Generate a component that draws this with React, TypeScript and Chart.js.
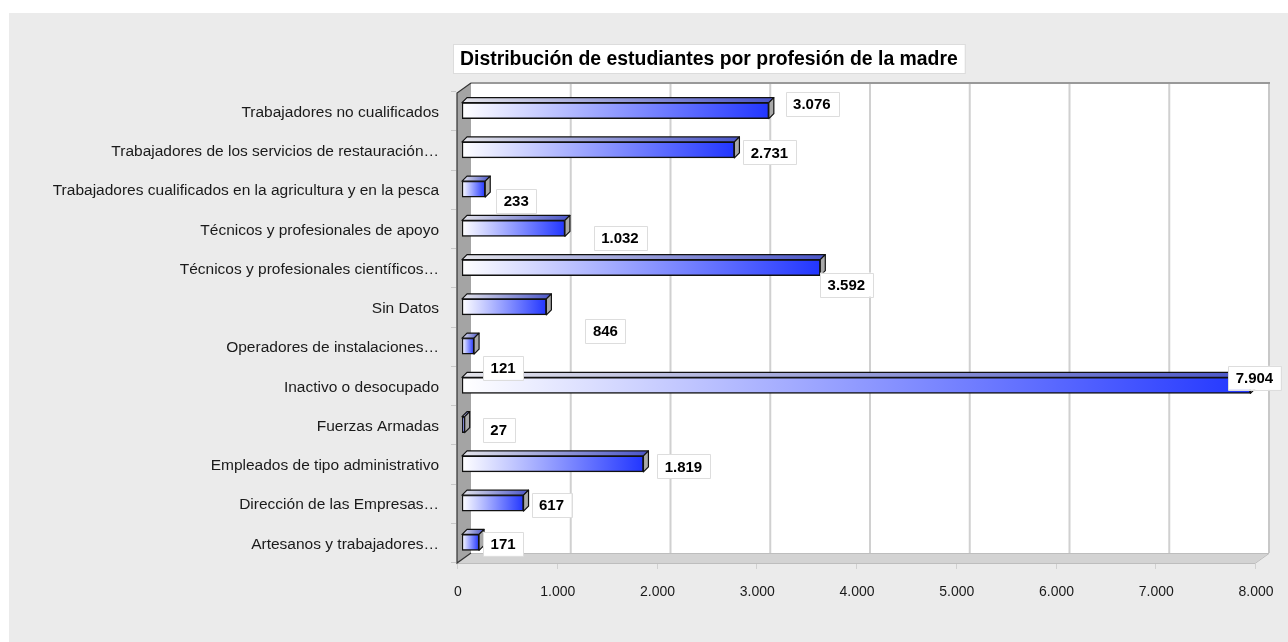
import { useEffect, useRef } from "react";
import { Chart, registerables } from "chart.js";

Chart.register(...registerables);

const titleText = "Distribución de estudiantes por profesión de la madre";

const categories = [
  "Trabajadores no cualificados",
  "Trabajadores de los servicios de restauración…",
  "Trabajadores cualificados en la agricultura y en la pesca",
  "Técnicos y profesionales de apoyo",
  "Técnicos y profesionales científicos…",
  "Sin Datos",
  "Operadores de instalaciones…",
  "Inactivo o desocupado",
  "Fuerzas Armadas",
  "Empleados de tipo administrativo",
  "Dirección de las Empresas…",
  "Artesanos y trabajadores…",
];

const values = [3076, 2731, 233, 1032, 3592, 846, 121, 7904, 27, 1819, 617, 171];

const xMin = 0;
const xMax = 8000;
const xStep = 1000;

// value-label placement relative to the bar end (px), as in the original layout
const labelDx = [43, 35, 31, 55, 26, 59, 29, 4, 34, 40, 28, 24];
const labelDy = [-7, 2.5, 11.5, 9.5, 17, 24, 21.5, -7.5, 5.5, 2.5, 2, 1.5];

const fmt = (v: number) => String(Math.round(v)).replace(/\B(?=(\d{3})+(?!\d))/g, ".");

const FONT = "'Liberation Sans', Arial, Helvetica, sans-serif";

export default function App() {
  const ref = useRef<HTMLCanvasElement | null>(null);

  useEffect(() => {
    if (!ref.current) return;

    const FRONT = -5;
    const BACK = 9;
    const DEPTH_X = 5;
    const DEPTH_Y = 5;

    const scenePlugin = {
      id: "scene",
      beforeDraw(chart: any) {
        const ctx = chart.ctx;
        ctx.save();
        ctx.fillStyle = "#ffffff";
        ctx.fillRect(0, 0, chart.width, chart.height);
        ctx.fillStyle = "#ebebeb";
        ctx.fillRect(9, 13, chart.width - 9, chart.height - 13);
        ctx.restore();
      },
      beforeDatasetsDraw(chart: any) {
        const ctx = chart.ctx;
        const xs = chart.scales.x;
        const ca = chart.chartArea;
        const ty = ca.top - 8;
        const by = ca.bottom - 9;
        const fy = ca.bottom + 1;
        const x0b = xs.getPixelForValue(xMin) + BACK;
        const x1b = xs.getPixelForValue(xMax) + BACK;
        const x0f = xs.getPixelForValue(xMin) + FRONT;
        const x1f = xs.getPixelForValue(xMax) + FRONT;
        ctx.save();
        // back wall
        ctx.fillStyle = "#ffffff";
        ctx.fillRect(x0b, ty, x1b - x0b, by - ty);
        // grid lines
        ctx.strokeStyle = "#d0d0d0";
        ctx.lineWidth = 2;
        for (let v = xMin + xStep; v < xMax; v += xStep) {
          const x = xs.getPixelForValue(v) + BACK;
          ctx.beginPath();
          ctx.moveTo(x, ty);
          ctx.lineTo(x, by);
          ctx.stroke();
        }
        // right wall edge
        ctx.strokeStyle = "#c8c8c8";
        ctx.beginPath();
        ctx.moveTo(x1b, ty);
        ctx.lineTo(x1b, by);
        ctx.stroke();
        // top edge
        ctx.strokeStyle = "#999999";
        ctx.beginPath();
        ctx.moveTo(x0b, ty);
        ctx.lineTo(x1b + 1, ty);
        ctx.stroke();
        // floor
        ctx.fillStyle = "#d3d3d3";
        ctx.beginPath();
        ctx.moveTo(x0f, fy);
        ctx.lineTo(x1f, fy);
        ctx.lineTo(x1b, by);
        ctx.lineTo(x0b, by);
        ctx.closePath();
        ctx.fill();
        ctx.strokeStyle = "#bdbdbd";
        ctx.lineWidth = 1;
        ctx.beginPath();
        ctx.moveTo(x0b, by + 0.5);
        ctx.lineTo(x1b, by + 0.5);
        ctx.moveTo(x0f, fy + 0.5);
        ctx.lineTo(x1f, fy + 0.5);
        ctx.lineTo(x1b, by + 0.5);
        ctx.stroke();
        // floor ticks
        ctx.strokeStyle = "#d0d0d0";
        for (let v = xMin; v <= xMax; v += xStep) {
          const x = Math.round(xs.getPixelForValue(v) + FRONT) + 0.5;
          ctx.beginPath();
          ctx.moveTo(x, fy + 1);
          ctx.lineTo(x, fy + 6);
          ctx.stroke();
        }
        // left wall
        ctx.fillStyle = "#a4a4a4";
        ctx.beginPath();
        ctx.moveTo(x0f, ty + 10);
        ctx.lineTo(x0b, ty);
        ctx.lineTo(x0b, by);
        ctx.lineTo(x0f, fy);
        ctx.closePath();
        ctx.fill();
        ctx.strokeStyle = "#333333";
        ctx.lineWidth = 1.2;
        ctx.beginPath();
        ctx.moveTo(x0b, ty);
        ctx.lineTo(x0f, ty + 10);
        ctx.lineTo(x0f, fy);
        ctx.lineTo(x0b, by);
        ctx.stroke();
        // category tick marks left of wall
        const ys = chart.scales.y;
        ctx.strokeStyle = "#c8c8c8";
        ctx.lineWidth = 1;
        const n = categories.length;
        const band = (ca.bottom - ca.top) / n;
        for (let i = 0; i <= n; i++) {
          const y = Math.round(ys.top + i * band) + 0.5;
          ctx.beginPath();
          ctx.moveTo(x0f - 6, y);
          ctx.lineTo(x0f - 1, y);
          ctx.stroke();
        }
        ctx.restore();
      },
      afterDatasetsDraw(chart: any) {
        const ctx = chart.ctx;
        const meta = chart.getDatasetMeta(0);
        ctx.save();
        // 3D faces of bars
        meta.data.forEach((el: any) => {
          const p = el.getProps(["x", "y", "base", "height"], true);
          const left = Math.min(p.base, p.x);
          const right = Math.max(p.base, p.x);
          const top = p.y - p.height / 2;
          const bottom = p.y + p.height / 2;
          const g = ctx.createLinearGradient(left, 0, right + DEPTH_X, 0);
          g.addColorStop(0, "#e4e4ea");
          g.addColorStop(1, "#4a55c8");
          ctx.fillStyle = g;
          ctx.strokeStyle = "#111111";
          ctx.lineWidth = 1.2;
          ctx.lineJoin = "round";
          ctx.beginPath();
          ctx.moveTo(left, top);
          ctx.lineTo(left + DEPTH_X, top - DEPTH_Y);
          ctx.lineTo(right + DEPTH_X, top - DEPTH_Y);
          ctx.lineTo(right, top);
          ctx.closePath();
          ctx.fill();
          ctx.stroke();
          ctx.fillStyle = "#a9a9a9";
          ctx.beginPath();
          ctx.moveTo(right, top);
          ctx.lineTo(right + DEPTH_X, top - DEPTH_Y);
          ctx.lineTo(right + DEPTH_X, bottom - DEPTH_Y);
          ctx.lineTo(right, bottom);
          ctx.closePath();
          ctx.fill();
          ctx.stroke();
        });
        // value labels
        ctx.font = `bold 15px ${FONT}`;
        ctx.textAlign = "center";
        ctx.textBaseline = "middle";
        meta.data.forEach((el: any, i: number) => {
          const p = el.getProps(["x", "y"], true);
          const text = fmt(values[i]);
          const w = ctx.measureText(text).width + 15;
          const h = 24;
          const cx = p.x + labelDx[i];
          const cy = p.y + labelDy[i];
          ctx.fillStyle = "#ffffff";
          ctx.fillRect(cx - w / 2, cy - h / 2, w, h);
          ctx.strokeStyle = "#dddddd";
          ctx.lineWidth = 1;
          ctx.strokeRect(Math.round(cx - w / 2) + 0.5, Math.round(cy - h / 2) + 0.5, Math.round(w), h);
          ctx.fillStyle = "#000000";
          ctx.fillText(text, cx, cy + 1);
        });
        ctx.restore();
      },
      afterDraw(chart: any) {
        const ctx = chart.ctx;
        const ca = chart.chartArea;
        ctx.save();
        ctx.font = `bold 19.4px ${FONT}`;
        const tw = ctx.measureText(titleText).width;
        const bx = ca.left - 9;
        const by = 44;
        const bw = tw + 14;
        const bh = 29;
        ctx.fillStyle = "#ffffff";
        ctx.fillRect(bx, by, bw, bh);
        ctx.strokeStyle = "#dcdcdc";
        ctx.lineWidth = 1;
        ctx.strokeRect(bx + 0.5, by + 0.5, bw, bh);
        ctx.fillStyle = "#000000";
        ctx.textAlign = "left";
        ctx.textBaseline = "middle";
        ctx.fillText(titleText, bx + 7, by + bh / 2 + 1);
        ctx.restore();
      },
    };

    const chart = new Chart(ref.current, {
      type: "bar",
      data: {
        labels: categories,
        datasets: [
          {
            data: values,
            backgroundColor: (c: any) => {
              const ch = c.chart;
              const xs = ch.scales && ch.scales.x;
              if (!ch.chartArea || !xs || typeof c.raw !== "number") return "#2233ff";
              const x0 = xs.getPixelForValue(0);
              const x1 = xs.getPixelForValue(c.raw);
              const g = ch.ctx.createLinearGradient(x0, 0, Math.max(x1, x0 + 1), 0);
              g.addColorStop(0, "#ffffff");
              g.addColorStop(1, "#2236ff");
              return g;
            },
            borderColor: "#111111",
            borderWidth: 1.5,
            borderSkipped: false,
            barThickness: 16,
          },
        ],
      },
      options: {
        indexAxis: "y",
        responsive: false,
        animation: false,
        devicePixelRatio: 1,
        layout: { padding: { left: 0, right: 28, top: 91, bottom: 0 } },
        plugins: {
          legend: { display: false },
          title: { display: false },
          tooltip: { enabled: false },
        },
        scales: {
          x: {
            type: "linear",
            min: xMin,
            max: xMax,
            grid: { display: false, drawTicks: false },
            border: { display: false },
            ticks: {
              stepSize: xStep,
              padding: 22,
              labelOffset: -4,
              color: "#1a1a1a",
              font: { family: FONT, size: 14 },
              callback: (v: any) => fmt(Number(v)),
            },
            afterFit: (s: any) => {
              s.height = 80;
              s.paddingLeft = 0;
              s.paddingRight = 0;
            },
          },
          y: {
            type: "category",
            grid: { display: false, drawTicks: false },
            border: { display: false },
            ticks: {
              padding: 23,
              labelOffset: 2,
              color: "#1a1a1a",
              font: { family: FONT, size: 15.5 },
              autoSkip: false,
            },
            afterFit: (s: any) => {
              s.width = 462;
              s.paddingTop = 0;
              s.paddingBottom = 0;
            },
          },
        },
      },
      plugins: [scenePlugin],
    } as any);

    return () => chart.destroy();
  }, []);

  return (
    <div style={{ position: "fixed", left: 0, top: 0, width: 1288, height: 642 }}>
      <canvas ref={ref} width={1288} height={642} style={{ display: "block", width: 1288, height: 642 }} />
    </div>
  );
}
